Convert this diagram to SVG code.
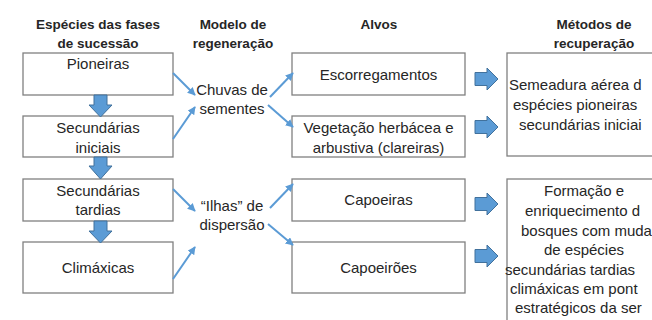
<svg xmlns="http://www.w3.org/2000/svg" width="652" height="320" viewBox="0 0 652 320">
<defs>
<marker id="ah" viewBox="0 0 10 10" refX="9" refY="5" markerWidth="4" markerHeight="4" orient="auto" markerUnits="strokeWidth">
<path d="M0,0 L10,5 L0,10 z" fill="#5B9BD5"/>
</marker>
<style>
.box{fill:#fff;stroke:#808080;stroke-width:1.3}
.t{font-family:"Liberation Sans",Arial,sans-serif;font-size:15px;fill:#262626;text-anchor:middle}
.ts{font-family:"Liberation Sans",Arial,sans-serif;font-size:15px;fill:#262626}
.h{font-family:"Liberation Sans",Arial,sans-serif;font-size:13.5px;font-weight:bold;fill:#262626;text-anchor:middle}
.ln{stroke:#5B9BD5;stroke-width:2;fill:none;marker-end:url(#ah)}
.blk{fill:#5B9BD5;stroke:#41719C;stroke-width:1}
</style>
</defs>
<rect width="652" height="320" fill="#fff"/>
<g id="headers">
<text class="h" x="98" y="28.5">Espécies das fases</text>
<text class="h" x="98" y="48">de sucessão</text>
<text class="h" x="233" y="28.5">Modelo de</text>
<text class="h" x="233" y="48">regeneração</text>
<text class="h" x="379" y="28.5">Alvos</text>
<text class="h" x="594" y="28.5">Métodos de</text>
<text class="h" x="594" y="48">recuperação</text>
</g>
<g id="pioneiras"><rect class="box" x="23" y="53" width="150" height="42"/><text class="t" x="98" y="69">Pioneiras</text></g>
<g id="sec-iniciais"><rect class="box" x="23" y="116" width="150" height="41"/><text class="t" x="98" y="133">Secundárias</text><text class="t" x="98" y="152.5">iniciais</text></g>
<g id="sec-tardias"><rect class="box" x="23" y="179" width="150" height="42"/><text class="t" x="98" y="196">Secundárias</text><text class="t" x="98" y="215">tardias</text></g>
<g id="climaxicas"><rect class="box" x="23" y="242" width="150" height="51"/><text class="t" x="98" y="273">Climáxicas</text></g>
<g id="chuvas"><text class="t" x="232" y="95">Chuvas de</text><text class="t" x="232" y="114">sementes</text></g>
<g id="ilhas"><text class="t" x="232" y="211">“Ilhas” de</text><text class="t" x="232" y="230">dispersão</text></g>
<g id="escorregamentos"><rect class="box" x="292" y="53" width="173" height="42"/><text class="t" x="378.5" y="80">Escorregamentos</text></g>
<g id="vegetacao"><rect class="box" x="292" y="116" width="173" height="41"/><text class="t" x="378.5" y="133">Vegetação herbácea e</text><text class="t" x="378.5" y="152.5">arbustiva (clareiras)</text></g>
<g id="capoeiras"><rect class="box" x="292" y="179" width="173" height="42"/><text class="t" x="378.5" y="205">Capoeiras</text></g>
<g id="capoeiroes"><rect class="box" x="292" y="242" width="173" height="51"/><text class="t" x="378.5" y="273">Capoeirões</text></g>
<g id="semeadura"><rect class="box" x="507" y="53" width="200" height="103"/>
<text class="ts" x="509" y="90">Semeadura aérea d</text>
<text class="ts" x="513" y="110">espécies pioneiras</text>
<text class="ts" x="519" y="130">secundárias iniciai</text></g>
<g id="formacao"><rect class="box" x="507" y="179" width="200" height="160"/>
<text class="t" x="584" y="196">Formação e</text>
<text class="ts" x="525" y="216">enriquecimento d</text>
<text class="ts" x="521" y="236">bosques com muda</text>
<text class="t" x="584" y="255">de espécies</text>
<text class="ts" x="505" y="275">secundárias tardias</text>
<text class="ts" x="510" y="294">climáxicas em pont</text>
<text class="ts" x="515" y="313">estratégicos da ser</text></g>
<g id="connectors">
<path class="blk" d="M94,95 H107 V105 H112 L100.5,117 L89,105 H94 Z"/>
<path class="blk" d="M94,157 H107 V166 H112 L100.5,179 L89,166 H94 Z"/>
<path class="blk" d="M94,221 H107 V231 H112 L100.5,243 L89,231 H94 Z"/>
<path class="blk" d="M475,72.5 H487 V68 L498,79 L487,90 V85.5 H475 Z"/>
<path class="blk" d="M475,120.5 H487 V116 L498,127 L487,138 V133.5 H475 Z"/>
<path class="blk" d="M475,197.5 H487 V193 L498,204 L487,215 V210.5 H475 Z"/>
<path class="blk" d="M475,249.5 H487 V245 L498,256 L487,267 V262.5 H475 Z"/>
<line class="ln" x1="173" y1="73" x2="195" y2="95"/>
<line class="ln" x1="173" y1="139" x2="195" y2="107"/>
<line class="ln" x1="270" y1="97" x2="293" y2="73"/>
<line class="ln" x1="268" y1="105" x2="293" y2="127"/>
<line class="ln" x1="173" y1="189" x2="195" y2="211"/>
<line class="ln" x1="173" y1="279" x2="195" y2="247"/>
<line class="ln" x1="270" y1="208" x2="293" y2="184"/>
<line class="ln" x1="268" y1="224" x2="293" y2="245"/>
</g>
</svg>
